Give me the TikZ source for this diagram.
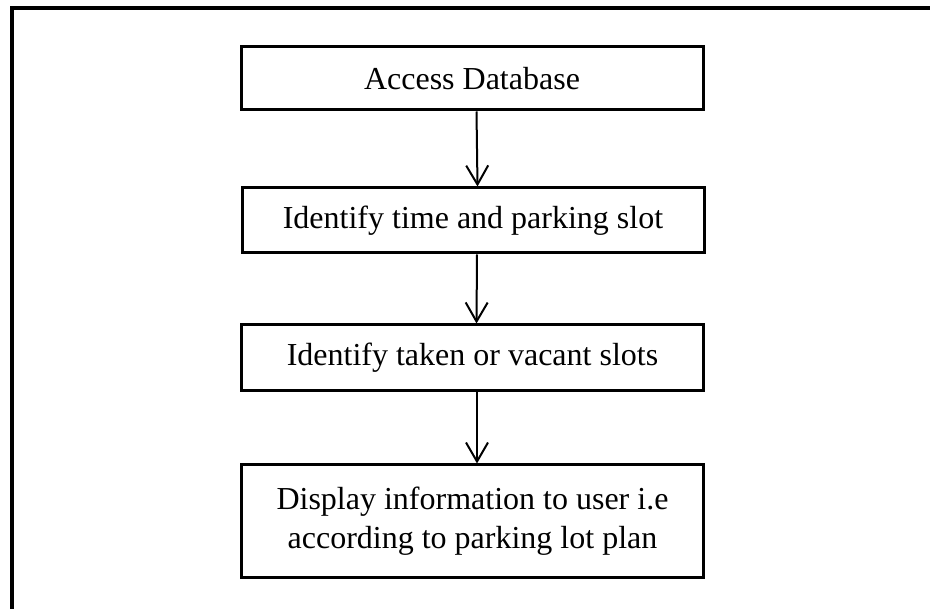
\documentclass[tikz,border=0pt]{standalone}
\usepackage{fontspec}
\setmainfont{Liberation Serif}
\usetikzlibrary{arrows.meta}
\begin{document}
\begin{tikzpicture}[x=1pt,y=-1pt,
  stepbox/.style={draw, line width=3pt, minimum width=462pt, inner sep=0pt,
    align=center, font=\fontsize{32}{39}\selectfont},
  flow/.style={line width=2pt, -{Straight Barb[length=19pt,width=22pt,line width=2pt]}}]
\useasboundingbox (0,0) rectangle (930,609);
% outer frame (open at right and bottom)
\draw[line width=3.2pt] (12,609) -- (12,8) -- (930,8);
% process steps
\node[stepbox, minimum height=63pt] (s1) at (472,78.5) {Access Database};
\node[stepbox, minimum height=65pt] (s2) at (473,220.5) {Identify time and parking slot};
\node[stepbox, minimum height=66pt] (s3) at (472.5,358) {Identify taken or vacant slots};
\node[stepbox, minimum height=113pt] (s4) at (472.5,521.5) {Display information to user i.e\\according to parking lot plan};
% connectors
\draw[flow] ([xshift=4.5pt]s1.south) -- ([xshift=4.5pt]s2.north);
\draw[flow] ([xshift=4pt]s2.south) -- ([xshift=4pt]s3.north);
\draw[flow] ([xshift=4.5pt]s3.south) -- ([xshift=4.5pt]s4.north);
\end{tikzpicture}
\end{document}
